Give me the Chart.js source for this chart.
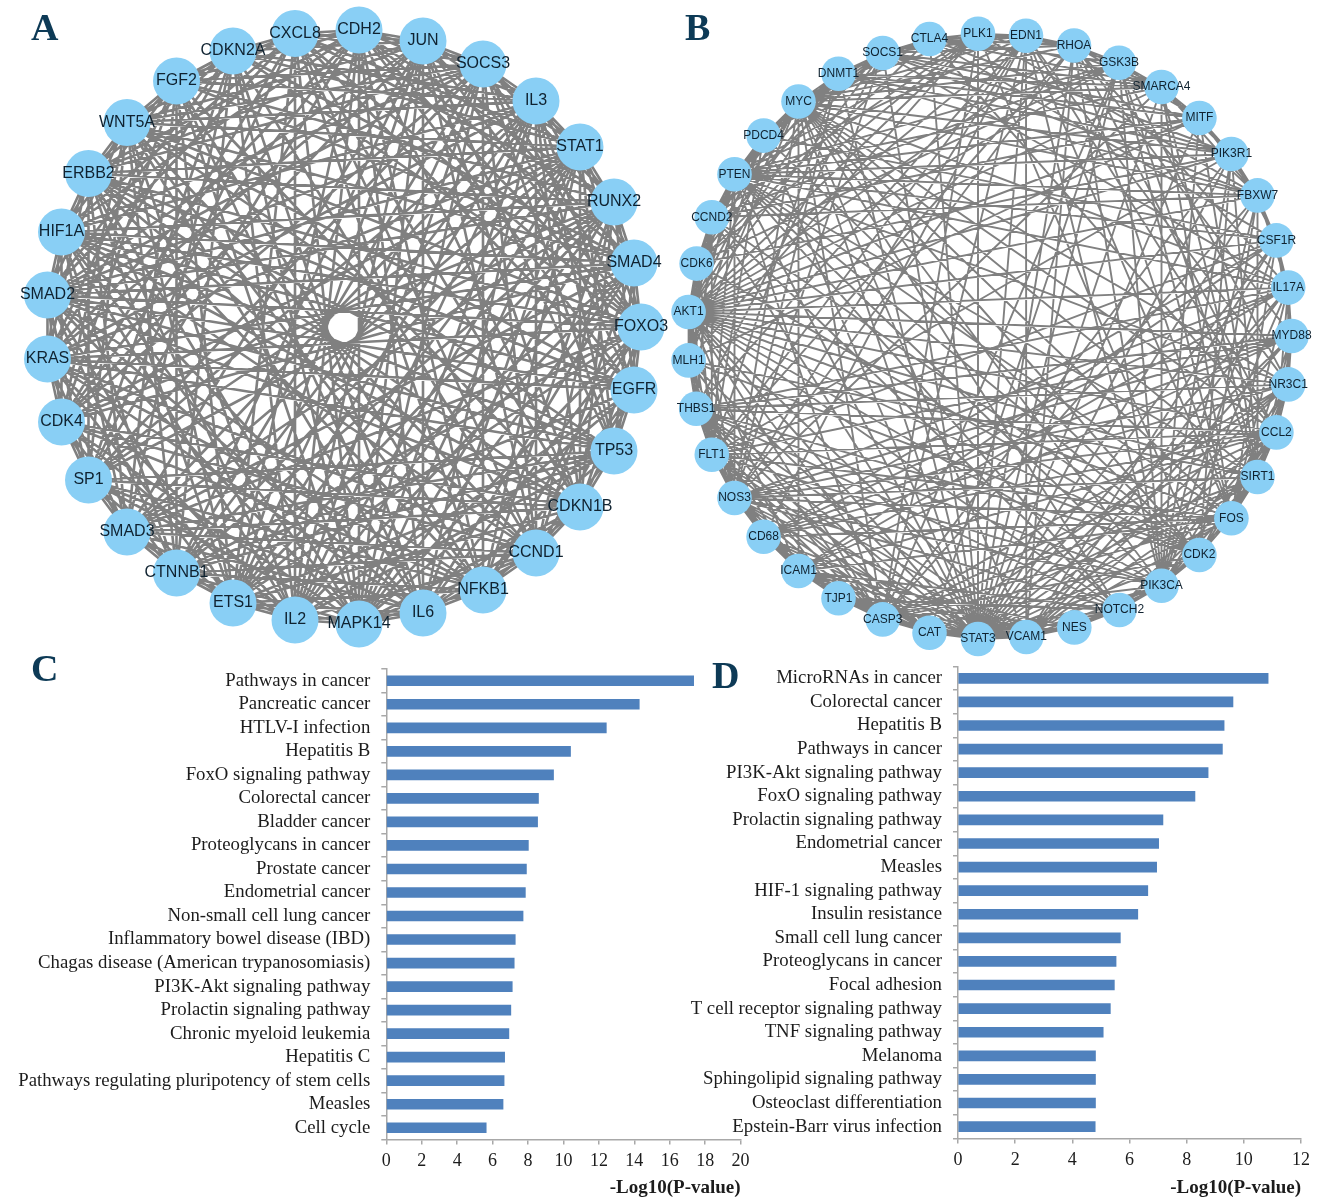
<!DOCTYPE html>
<html>
<head>
<meta charset="utf-8">
<title>Networks and enrichment</title>
<script src="https://cdn.jsdelivr.net/npm/chart.js@4/dist/chart.umd.min.js"></script>
<style>
html,body{margin:0;padding:0;background:#fff;width:1322px;height:1199px;overflow:hidden}
#page{position:relative;width:1322px;height:1199px}
canvas{position:absolute;display:block}
.tag{position:absolute;font:bold 38px/38px "Liberation Serif",serif;color:#0d3a56;z-index:5}
</style>
</head>
<body>
<div id="page">
<canvas id="netA" width="670" height="650" style="left:0;top:0;width:670px;height:650px"></canvas>
<canvas id="netB" width="662" height="660" style="left:660px;top:0;width:662px;height:660px"></canvas>
<canvas id="barC" width="770" height="549" style="left:0;top:650px;width:770px;height:549px"></canvas>
<canvas id="barD" width="642" height="549" style="left:680px;top:650px;width:642px;height:549px"></canvas>
<div class="tag" style="left:31px;top:8px">A</div>
<div class="tag" style="left:685px;top:8px">B</div>
<div class="tag" style="left:31px;top:649px">C</div>
<div class="tag" style="left:712px;top:656px">D</div>
</div>
<script>
// ---------- network A ----------
const genesA = ["CDH2","JUN","SOCS3","IL3","STAT1","RUNX2","SMAD4","FOXO3","EGFR","TP53","CDKN1B","CCND1","NFKB1","IL6","MAPK14","IL2","ETS1","CTNNB1","SMAD3","SP1","CDK4","KRAS","SMAD2","HIF1A","ERBB2","WNT5A","FGF2","CDKN2A","CXCL8"];
const xA = [359,423,483,536,580,614,634,641,634,614,580,536,483,423,359,295,233,176.5,127,88.5,61.5,47.5,47.5,61.5,88.5,127,176.5,233,295];
const yA = [30,41,64,101,147,202,263,327,390,451,507,553,590,613,624,620,603,573,532,480,422,359,295,232,173.5,122.5,81,51,33.5];
// pairs without an interaction in A (index, then its non-neighbours)
const absentA = [
 [0,[4,9,11,17,18,22,25]],[1,[5,8,12,19,23,26]],[2,[6,10,13,18,21,27]],[3,[7,12,20,24,28]],
 [4,[8,11,23,26]],[5,[9,13,21,25,27]],[6,[10,12,17,19,24,28]],[7,[11,15,19,20,26]],
 [8,[13,16,18,19,20,26,27]],[9,[12,14,20,26,27,28]],[10,[15,17,21,25,27]],[11,[16,19,22,26]],
 [12,[15,18,23,27]],[13,[17,20,24,28]],[14,[18,21,25]],[15,[19,22,26]],
 [16,[20,23,27]],[17,[21,24,28]],[18,[22,25,28]],[19,[23,26]],[20,[24,27]],[21,[25,28]],[22,[26]],[23,[27]],[24,[28]]
];
// ---------- network B ----------
const genesB = ["PLK1","EDN1","RHOA","GSK3B","SMARCA4","MITF","PIK3R1","FBXW7","CSF1R","IL17A","MYD88","NR3C1","CCL2","SIRT1","FOS","CDK2","PIK3CA","NOTCH2","NES","VCAM1","STAT3","CAT","CASP3","TJP1","ICAM1","CD68","NOS3","FLT1","THBS1","MLH1","AKT1","CDK6","CCND2","PTEN","PDCD4","MYC","DNMT1","SOCS1","CTLA4"];
const xB = [978,1026,1074,1119,1161.5,1199.4,1231.4,1257.5,1276.4,1288.2,1291.6,1288.2,1276.4,1257.5,1231.4,1199.4,1161.5,1119.4,1074.3,1026.3,978,929.5,882.7,838.5,798.5,763.6,734.5,711.8,696.2,688.6,688.6,696.6,711.8,734.5,763.6,798.5,838.5,882.7,929.5];
const yB = [33.7,35.8,45.5,62.7,87,118,154,195.4,240.4,287.6,336,384.4,432.4,477,518.3,555,585.7,610,627.4,637,639,632.8,619.4,598.3,571,536.8,498,454.7,408.8,360.4,312,263.6,217.3,174.3,135.6,101.5,73.7,53,39];
// interactions in B (gene index, then its partners)
const linksB = [
 [30,[0,1,2,3,4,5,6,7,8,9,10,11,12,13,14,15,16,17,19,20,21,22,24,26,27,28,29,31,32,33,34,35,36,37]],
 [35,[0,1,2,3,4,6,7,9,11,12,13,14,15,16,17,19,20,22,24,26,29,31,32,33,34,36,37,38]],
 [33,[0,1,3,4,5,6,7,8,9,11,13,14,15,16,17,20,22,26,27,29,31,32,34,36,37]],
 [20,[0,1,2,3,4,5,6,7,8,9,10,11,12,13,14,15,16,17,18,19,21,22,23,24,25,26,27,28,29,32,34,36,37,38]],
 [19,[1,2,8,9,10,11,12,13,14,16,17,18,21,22,23,24,25,26,27,28]],
 [22,[0,1,3,6,7,11,12,13,14,15,16,21,23,24,25,26,27,28,29]],
 [16,[1,2,3,4,5,6,7,8,9,11,12,13,14,15,17,18,26,27,28]],
 [12,[9,10,11,13,14,15,17,24,25,26,27,28,38,1,2]],
 [13,[3,4,5,6,7,10,11,14,15,17,21,26,29]],
 [14,[1,2,3,4,8,9,10,11,15,24,26,27,25]],
 [4,[3,5,6,7,0,1,2,36,37,38,26]],
 [1,[0,2,3,38,37,11,25,26,27,28]],
 [0,[38,2,15,31,32,29,7]],
 [2,[3,5,38,37,26,27,10,9]],
 [3,[5,7,31,32,21,11,38]],
 [5,[6,7,32,37,29,36]],
 [6,[7,8,15,36,37,38,31,27]],
 [7,[8,9,15,37,36,32]],
 [8,[9,10,24,25,38,34,27]],
 [9,[10,11,24,25,26,28,37]],
 [10,[11,24,25,26,28,27]],
 [11,[15,26,28,25,21]],
 [15,[17,29,31,32,34,28]],
 [17,[18,21,23,24,26,28,32]],
 [18,[23,21,24]],
 [21,[23,24,26,27,28,25]],
 [23,[24,25,26,28]],
 [24,[25,26,27,28]],
 [25,[26,27,28,29]],
 [26,[27,28,29,31,36,37]],
 [27,[28,29,31,32,34,36]],
 [28,[29,31,32,37]],
 [29,[31,32,34]],
 [31,[32,34,36,38]],
 [32,[34,36,37]],
 [34,[36,37,38]],
 [36,[37,38]],
 [37,[38]]
];
// ---------- bar chart C ----------
const pathwaysC = ["Pathways in cancer","Pancreatic cancer","HTLV-I infection","Hepatitis B","FoxO signaling pathway","Colorectal cancer","Bladder cancer","Proteoglycans in cancer","Prostate cancer","Endometrial cancer","Non-small cell lung cancer","Inflammatory bowel disease (IBD)","Chagas disease (American trypanosomiasis)","PI3K-Akt signaling pathway","Prolactin signaling pathway","Chronic myeloid leukemia","Hepatitis C","Pathways regulating pluripotency of stem cells","Measles","Cell cycle"];
const valuesC = [17.35,14.28,12.42,10.40,9.44,8.59,8.54,8.02,7.91,7.85,7.72,7.28,7.22,7.11,7.03,6.92,6.68,6.65,6.59,5.64];
// ---------- bar chart D ----------
const pathwaysD = ["MicroRNAs in cancer","Colorectal cancer","Hepatitis B","Pathways in cancer","PI3K-Akt signaling pathway","FoxO signaling pathway","Prolactin signaling pathway","Endometrial cancer","Measles","HIF-1 signaling pathway","Insulin resistance","Small cell lung cancer","Proteoglycans in cancer","Focal adhesion","T cell receptor signaling pathway","TNF signaling pathway","Melanoma","Sphingolipid signaling pathway","Osteoclast differentiation","Epstein-Barr virus infection"];
const valuesD = [10.85,9.62,9.31,9.25,8.75,8.29,7.17,7.02,6.95,6.64,6.29,5.68,5.53,5.47,5.33,5.08,4.81,4.81,4.81,4.80];
const axisTitle = "-Log10(P-value)";

Chart.defaults.animation = false;
Chart.defaults.devicePixelRatio = 1;

const GREY = "#808080", NODE = "#89CFF5", AXIS = "#a8a8a8", INK = "#1c1c1c";

const nodeLabels = {
  id: "nodeLabels",
  afterDatasetsDraw(chart, _a, o) {
    const {ctx, scales:{x, y}} = chart;
    ctx.save();
    ctx.font = o.font; ctx.fillStyle = "#0f2230";
    ctx.textAlign = "center"; ctx.textBaseline = "middle";
    o.names.forEach((n, i) => ctx.fillText(n, x.getPixelForValue(o.xs[i]), y.getPixelForValue(o.ys[i])));
    ctx.restore();
  }
};

function segments(pairs, xs, ys) {
  const pts = [];
  pairs.forEach(([a, b]) => {
    pts.push({x: xs[a], y: ys[a]}, {x: xs[b], y: ys[b]}, {x: NaN, y: NaN});
  });
  return pts;
}

function network(id, names, xs, ys, pairs, r, lw, font, xr, yr) {
  new Chart(document.getElementById(id), {
    type: "scatter",
    data: { datasets: [
      { data: segments(pairs, xs, ys), showLine: true, spanGaps: false, pointRadius: 0, borderColor: GREY, borderWidth: lw, order: 2, clip: false },
      { data: xs.map((v, i) => ({x: v, y: ys[i]})), pointRadius: r, pointHoverRadius: r, pointBackgroundColor: NODE, pointBorderWidth: 0, order: 1, clip: false }
    ]},
    options: {
      responsive: false, maintainAspectRatio: false,
      layout: {padding: 0, autoPadding: false},
      events: [],
      plugins: { legend: {display: false}, tooltip: {enabled: false}, nodeLabels: {names, xs, ys, font} },
      scales: {
        x: {type: "linear", display: false, min: xr[0], max: xr[1]},
        y: {type: "linear", display: false, min: yr[0], max: yr[1], reverse: true}
      }
    },
    plugins: [nodeLabels]
  });
}

function pairsFromAbsent(n, absent) {
  const out = new Set();
  absent.forEach(([a, l]) => l.forEach(b => out.add(a + "-" + b)));
  const p = [];
  for (let i = 0; i < n; i++) for (let j = i + 1; j < n; j++) if (!out.has(i + "-" + j)) p.push([i, j]);
  return p;
}
function pairsFromLinks(links) {
  const seen = new Set(), p = [];
  links.forEach(([a, l]) => l.forEach(b => {
    const k = Math.min(a, b) + "-" + Math.max(a, b);
    if (!seen.has(k)) { seen.add(k); p.push([a, b]); }
  }));
  return p;
}

network("netA", genesA, xA, yA, pairsFromAbsent(genesA.length, absentA), 23.5, 2.6, '16px "Liberation Sans"', [0, 670], [0, 650]);
network("netB", genesB, xB, yB, pairsFromLinks(linksB), 17.3, 1.9, '12px "Liberation Sans"', [660, 1322], [0, 660]);

function bars(id, labels, values, max, yWidth, xHeight, pad) {
  new Chart(document.getElementById(id), {
    type: "bar",
    data: { labels, datasets: [{ data: values, backgroundColor: "#4F81BD", barThickness: 10 }] },
    options: {
      indexAxis: "y", responsive: false, maintainAspectRatio: false,
      layout: {padding: pad, autoPadding: false},
      events: [],
      plugins: {legend: {display: false}, tooltip: {enabled: false}},
      scales: {
        x: {
          min: 0, max, position: "bottom",
          afterFit(s) { s.height = xHeight; },
          border: {color: AXIS, width: 1.5},
          grid: {drawOnChartArea: false, drawTicks: true, tickLength: 5, color: AXIS, lineWidth: 1.5},
          ticks: {stepSize: 2, color: INK, font: {family: "Liberation Serif", size: 18}, padding: 6, maxRotation: 0},
          title: {display: true, text: axisTitle, align: "end", color: INK, font: {family: "Liberation Serif", size: 19, weight: "bold"}, padding: {top: 0, bottom: 0}}
        },
        y: {
          afterFit(s) { s.width = yWidth; s.paddingTop = 0; s.paddingBottom = 0; },
          border: {color: AXIS, width: 1.5},
          grid: {drawOnChartArea: false, drawTicks: true, tickLength: 5, color: AXIS, lineWidth: 1.5, offset: true},
          ticks: {autoSkip: false, color: INK, font: {family: "Liberation Serif", size: 18.8}, padding: 11}
        }
      }
    }
  });
}
bars("barC", pathwaysC, valuesC, 20, 386.3, 59.5, {left: 0, right: 29.4, top: 19, bottom: 0});
bars("barD", pathwaysD, valuesD, 12, 278, 60.6, {left: 0, right: 21, top: 16.5, bottom: 0});
</script>
</body>
</html>
